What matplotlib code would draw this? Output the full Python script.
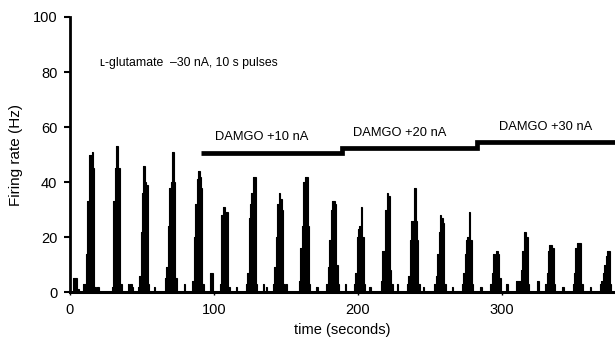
import numpy as np
import matplotlib
matplotlib.use("Agg")
import matplotlib.pyplot as plt

# first 1-s bin of each glutamate pulse (s) and the binned firing rate (Hz)
PULSE_START = [9, 29, 47, 66, 85, 104, 122, 141, 159, 178,
               197, 216, 234, 253, 272, 292, 310, 330, 349, 368]
PULSE_RATES = [
    [3, 3, 14, 33, 50, 50, 51, 45, 2],
    [2, 33, 45, 53, 45, 45, 3],
    [2, 6, 22, 36, 46, 40, 39, 3],
    [5, 9, 24, 38, 40, 51, 40, 5],
    [4, 20, 32, 41, 44, 42, 38, 3],
    [3, 28, 31, 31, 29, 29, 2],
    [3, 7, 27, 32, 36, 42, 42, 3],
    [3, 9, 20, 32, 36, 34, 30, 3],
    [4, 16, 24, 40, 42, 42, 24, 3],
    [3, 9, 19, 30, 33, 33, 32, 10, 3],
    [3, 7, 20, 23, 24, 31, 20, 3],
    [4, 15, 15, 30, 36, 35, 8, 3],
    [3, 6, 19, 26, 26, 38, 26, 19, 3],
    [3, 6, 14, 22, 28, 27, 25, 3],
    [3, 7, 14, 19, 20, 29, 19, 3],
    [3, 7, 14, 10, 15, 14, 5],
    [4, 4, 4, 8, 15, 22, 22, 20, 3],
    [3, 7, 15, 17, 17, 16, 3],
    [3, 7, 16, 18, 18, 18, 3],
    [3, 4, 7, 10, 13, 15, 15, 3],
]
# spontaneous activity between pulses
BUMP_T = [2, 3, 4, 5, 19, 40, 42, 43, 58, 79, 97, 98, 115, 134, 136, 150,
          171, 191, 208, 227, 245, 265, 285, 303, 324, 325, 342, 361]
BUMP_RATE = [5, 5, 5, 1, 2, 3, 3, 2, 2, 3, 7, 7, 2, 3, 2, 3,
             2, 3, 2, 3, 2, 2, 2, 3, 4, 4, 2, 2]

# DAMGO application bars: edges (s) and level (Hz)
DAMGO_EDGES = [91, 189, 283, 380]
DAMGO_LEVEL = [50.5, 52.5, 54.7]
DAMGO_LABELS = ["DAMGO +10 nA", "DAMGO +20 nA", "DAMGO +30 nA"]
DAMGO_LABEL_X = [133, 229, 330]
DAMGO_LABEL_Y = [56.5, 57.8, 60]

T_END = 379


def build_rate():
    rate = np.zeros(T_END)
    for t0, vals in zip(PULSE_START, PULSE_RATES):
        for i, v in enumerate(vals):
            if t0 + i < T_END:
                rate[t0 + i] = v
    for t, v in zip(BUMP_T, BUMP_RATE):
        rate[t] = max(rate[t], v)
    return rate


def main():
    plt.rcParams['font.family'] = ['Liberation Sans', 'DejaVu Sans']
    fig = plt.figure(figsize=(6.15, 3.4), dpi=100)
    ax = fig.add_axes([0.1138, 0.141, 0.8862, 0.809])

    rate = build_rate()
    edges = np.arange(T_END + 1)
    ax.stairs(rate, edges, fill=True, color='black', linewidth=0)
    ax.stairs(rate, edges, color='black', linewidth=0.8)

    # DAMGO step bar
    xs, ys = [], []
    for i, lvl in enumerate(DAMGO_LEVEL):
        xs += [DAMGO_EDGES[i], DAMGO_EDGES[i + 1]]
        ys += [lvl, lvl]
    ax.plot(xs, ys, color='black', lw=3.4, solid_capstyle='butt',
            solid_joinstyle='miter')
    for lab, x, y in zip(DAMGO_LABELS, DAMGO_LABEL_X, DAMGO_LABEL_Y):
        ax.text(x, y, lab, fontsize=9.3, ha='center', va='center')

    ax.text(21, 83.3, "\u029f-glutamate  \u201330 nA, 10 s pulses",
            fontsize=8.8, ha='left', va='center')

    ax.set_xlim(0, 378.5)
    ax.set_ylim(0, 100)
    ax.set_xticks([0, 100, 200, 300])
    ax.set_yticks([0, 20, 40, 60, 80, 100])
    ax.tick_params(axis='y', direction='out', length=4, width=1.5,
                   labelsize=10.5, pad=5)
    ax.tick_params(axis='x', direction='out', length=2, width=1,
                   labelsize=10.5, pad=6)
    for s in ['top', 'right']:
        ax.spines[s].set_visible(False)
    ax.spines['left'].set_linewidth(2)
    ax.spines['bottom'].set_linewidth(2.2)
    ax.set_ylabel("Firing rate (Hz)", fontsize=11, labelpad=7)
    ax.set_xlabel("time (seconds)", fontsize=10.5, labelpad=4)

    fig.savefig("out.png", dpi=100)


if __name__ == "__main__":
    main()
